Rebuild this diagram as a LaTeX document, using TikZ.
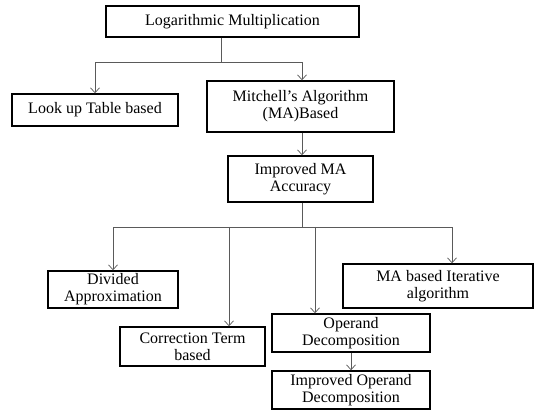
\documentclass[tikz,border=0pt]{standalone}
\usepackage{fontspec}
\setmainfont{Liberation Serif}
\usetikzlibrary{arrows.meta,positioning,calc}
\definecolor{lineclr}{RGB}{90,90,90}
\tikzset{
  %% method box
  mbox/.style={rectangle,draw=black,line width=1.4pt,fill=white,
    font=\fontsize{16}{17}\selectfont,align=center,inner sep=2pt},
  %% plain connector and arrow
  ln/.style={line width=0.7pt,color=lineclr},
  arr/.style={ln,-{Straight Barb[length=5pt,width=9pt]}},
}
\begin{document}
\begin{tikzpicture}[x=1pt,y=-1pt]
  \useasboundingbox (0,0) rectangle (535,411);
  %% boxes
  \node[mbox,minimum width=253pt,minimum height=31pt] (logmul) at (232.5,21.5) {Logarithmic Multiplication};
  \node[mbox,minimum width=166pt,minimum height=32pt] (lut) at (95,110) {Look up Table based};
  \node[mbox,minimum width=187pt,minimum height=51pt] (mitch) at (300.5,106.5) {Mitchell’s Algorithm\\(MA)Based};
  \node[mbox,minimum width=145pt,minimum height=46pt] (impma) at (300.5,179) {Improved MA\\Accuracy};
  \node[mbox,minimum width=130pt,minimum height=37pt] (divap) at (113,289.5) {Divided\\Approximation};
  \node[mbox,minimum width=145pt,minimum height=39pt] (corr) at (192.5,346.5) {Correction Term\\based};
  \node[mbox,minimum width=158pt,minimum height=38pt] (opdec) at (351,333) {Operand\\Decomposition};
  \node[mbox,minimum width=158pt,minimum height=38pt] (impop) at (351,390) {Improved Operand\\Decomposition};
  \node[mbox,minimum width=190pt,minimum height=44pt] (iter) at (438,286) {MA based Iterative\\algorithm};
  %% branch points
  \coordinate (j1) at (221,62);
  \coordinate (j2) at (302,227);
  \coordinate (b1) at (229,227);
  \coordinate (b2) at (315,227);
  %% first level
  \draw[ln] (logmul.south -| j1) -- (j1);
  \draw[arr] (j1) -| (lut.north);
  \draw[arr] (j1) -| (mitch.north -| 302,0);
  %% second level
  \draw[arr] (mitch.south -| j2) -- (impma.north -| j2);
  \draw[ln] (impma.south -| j2) -- (j2);
  \draw[arr] (j2) -| (divap.north);
  \draw[arr] (j2) -| (iter.north -| 452,0);
  \draw[arr] (b1) -- (b1 |- corr.north);
  \draw[arr] (b2) -- (b2 |- opdec.north);
  \draw[arr] (opdec) -- (impop);
\end{tikzpicture}
\end{document}
